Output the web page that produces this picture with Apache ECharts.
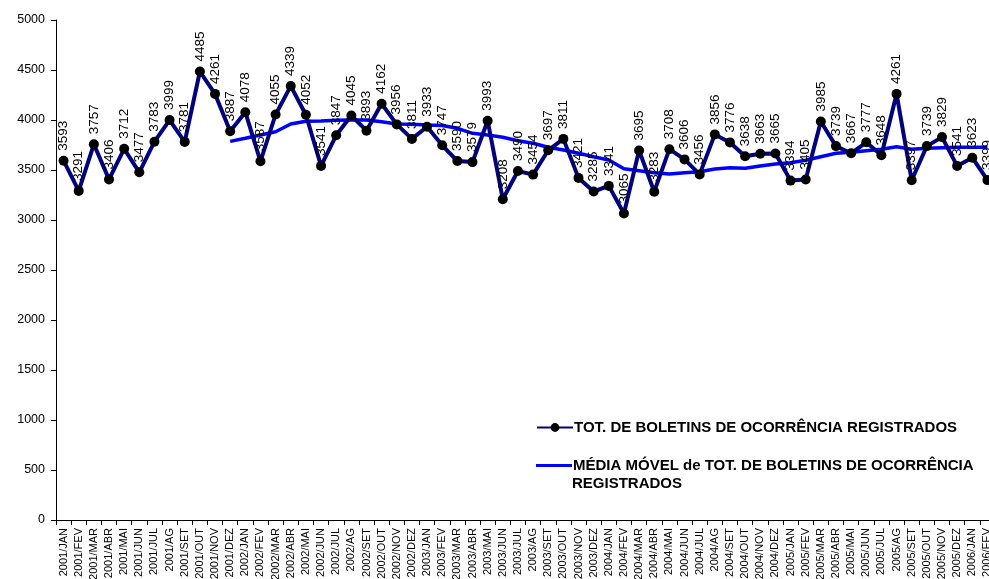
<!DOCTYPE html>
<html>
<head>
<meta charset="utf-8">
<script src="https://cdn.jsdelivr.net/npm/echarts@6/dist/echarts.min.js"></script>
<style>
  html, body { margin: 0; padding: 0; background: #fff; }
  #chart { width: 989px; height: 579px; }
</style>
</head>
<body>
<div id="chart"></div>
<script>
var categorias = [
  '2001/JAN','2001/FEV','2001/MAR','2001/ABR','2001/MAI','2001/JUN','2001/JUL','2001/AG','2001/SET','2001/OUT','2001/NOV','2001/DEZ',
  '2002/JAN','2002/FEV','2002/MAR','2002/ABR','2002/MAI','2002/JUN','2002/JUL','2002/AG','2002/SET','2002/OUT','2002/NOV','2002/DEZ',
  '2003/JAN','2003/FEV','2003/MAR','2003/ABR','2003/MAI','2003/JUN','2003/JUL','2003/AG','2003/SET','2003/OUT','2003/NOV','2003/DEZ',
  '2004/JAN','2004/FEV','2004/MAR','2004/ABR','2004/MAI','2004/JUN','2004/JUL','2004/AG','2004/SET','2004/OUT','2004/NOV','2004/DEZ',
  '2005/JAN','2005/FEV','2005/MAR','2005/ABR','2005/MAI','2005/JUN','2005/JUL','2005/AG','2005/SET','2005/OUT','2005/NOV','2005/DEZ',
  '2006/JAN','2006/FEV'
];
var totalBoletins = [
  3593, 3291, 3757, 3406, 3712, 3477, 3783, 3999, 3781, 4485, 4261, 3887,
  4078, 3587, 4055, 4339, 4052, 3541, 3847, 4045, 3893, 4162, 3956, 3811,
  3933, 3747, 3590, 3579, 3993, 3208, 3490, 3454, 3697, 3811, 3421, 3285,
  3341, 3065, 3695, 3283, 3708, 3606, 3456, 3856, 3776, 3638, 3663, 3665,
  3394, 3405, 3985, 3739, 3667, 3777, 3648, 4261, 3397, 3739, 3829, 3541,
  3623, 3399
];
// media movel (comeca em 2001/DEZ)
var mediaMovel = [
  '-', '-', '-', '-', '-', '-', '-', '-', '-', '-', '-', 3786,
  3817, 3850, 3883, 3960, 3987, 3990, 3997, 4000, 4000, 3983, 3960, 3957,
  3950, 3945, 3917, 3867, 3850, 3827, 3793, 3767, 3727, 3700, 3667, 3633,
  3600, 3512, 3493, 3473, 3460, 3473, 3483, 3510, 3523, 3517, 3540, 3560,
  3573, 3597, 3633, 3667, 3677, 3693, 3707, 3733, 3707, 3717, 3723, 3727,
  3727, 3727
];
var yTicks = [0, 500, 1000, 1500, 2000, 2500, 3000, 3500, 4000, 4500, 5000];

var nomeTotal = 'TOT. DE BOLETINS DE OCORRÊNCIA REGISTRADOS';
var nomeMedia = 'MÉDIA MÓVEL de TOT. DE BOLETINS DE OCORRÊNCIA REGISTRADOS';
var fonte = '"Liberation Sans", Arial, sans-serif';
var legendaTexto = { fontFamily: fonte, fontSize: 15, fontWeight: 'bold', color: '#000', padding: [0, 0, 0, -4] };

var myChart = echarts.init(document.getElementById('chart'));
myChart.setOption({
  animation: false,
  backgroundColor: '#fff',
  textStyle: { fontFamily: fonte },
  grid: { left: 56, width: 939, top: 20, bottom: 59, containLabel: false, outerBoundsMode: 'none' },
  legend: [
    {
      data: [nomeTotal],
      left: 536, top: 420, padding: 0,
      itemWidth: 36, itemHeight: 11,
      textStyle: legendaTexto
    },
    {
      data: [{ name: nomeMedia, icon: 'rect' }],
      left: 536, top: 458, padding: 0,
      itemWidth: 36, itemHeight: 3,
      formatter: function () { return 'MÉDIA MÓVEL de TOT. DE BOLETINS DE OCORRÊNCIA'; },
      textStyle: legendaTexto
    }
  ],
  graphic: [
    {
      type: 'text',
      left: 572, top: 476,
      style: { text: 'REGISTRADOS', font: 'bold 15px ' + fonte, fill: '#000' }
    }
  ],
  xAxis: {
    type: 'category',
    data: categorias,
    boundaryGap: true,
    axisLine: { lineStyle: { color: '#000', width: 1 } },
    axisTick: { show: true, length: 5, lineStyle: { color: '#000' } },
    axisLabel: { interval: 0, rotate: 90, fontSize: 11, color: '#000', margin: 8, fontFamily: fonte }
  },
  yAxis: {
    type: 'value',
    min: yTicks[0],
    max: yTicks[yTicks.length - 1],
    interval: 500,
    splitLine: { show: false },
    axisLine: { show: true, lineStyle: { color: '#000', width: 1 } },
    axisTick: { show: true, length: 5, lineStyle: { color: '#000' } },
    axisLabel: {
      fontSize: 12.5, color: '#000', margin: 11, fontFamily: fonte,
      formatter: function (v) { return String(v); }
    }
  },
  series: [
    {
      name: nomeMedia,
      type: 'line',
      data: mediaMovel,
      symbol: 'none',
      z: 2,
      color: '#0000FF',
      lineStyle: { color: '#0000FF', width: 3.5 }
    },
    {
      name: nomeTotal,
      type: 'line',
      data: totalBoletins,
      symbol: 'circle',
      symbolSize: 10,
      z: 3,
      color: '#000080',
      itemStyle: { color: '#000', borderWidth: 0 },
      lineStyle: { color: '#000080', width: 4 },
      label: {
        show: true,
        position: 'top',
        rotate: 90,
        align: 'left',
        verticalAlign: 'middle',
        distance: 5,
        fontSize: 13.5,
        color: '#000',
        fontFamily: fonte
      }
    }
  ]
});
</script>
</body>
</html>
